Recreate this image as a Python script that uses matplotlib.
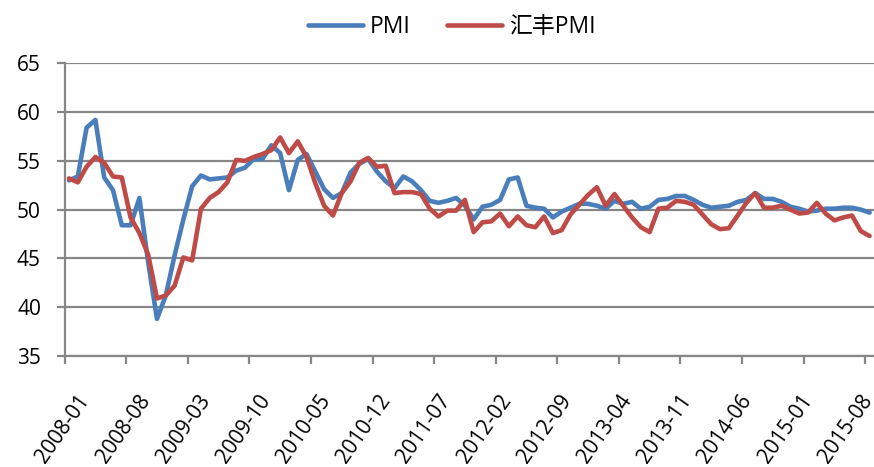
import matplotlib
matplotlib.use("Agg")
import matplotlib.pyplot as plt
from matplotlib.transforms import ScaledTranslation

months = [f"{y}-{m:02d}" for y in range(2008, 2016) for m in range(1, 13)][:92]

pmi = [53.0, 53.4, 58.4, 59.2, 53.3, 52.0, 48.4, 48.4, 51.2, 44.6, 38.8, 41.2,
       45.3, 49.0, 52.4, 53.5, 53.1, 53.2, 53.3, 54.0, 54.3, 55.2, 55.2, 56.6,
       55.8, 52.0, 55.1, 55.7, 53.9, 52.1, 51.2, 51.7, 53.8, 54.7, 55.2, 53.9,
       52.9, 52.2, 53.4, 52.9, 52.0, 50.9, 50.7, 50.9, 51.2, 50.4, 49.0, 50.3,
       50.5, 51.0, 53.1, 53.3, 50.4, 50.2, 50.1, 49.2, 49.8, 50.2, 50.6, 50.6,
       50.4, 50.1, 50.9, 50.6, 50.8, 50.1, 50.3, 51.0, 51.1, 51.4, 51.4, 51.0,
       50.5, 50.2, 50.3, 50.4, 50.8, 51.0, 51.7, 51.1, 51.1, 50.8, 50.3, 50.1,
       49.8, 49.9, 50.1, 50.1, 50.2, 50.2, 50.0, 49.7]

hsbc_pmi = [53.2, 52.8, 54.4, 55.4, 54.8, 53.4, 53.3, 49.2, 47.6, 45.4, 40.9, 41.2,
            42.2, 45.1, 44.8, 50.1, 51.2, 51.8, 52.8, 55.1, 55.0, 55.4, 55.7, 56.1,
            57.4, 55.8, 57.0, 55.4, 52.7, 50.4, 49.4, 51.7, 52.9, 54.8, 55.3, 54.4,
            54.5, 51.7, 51.8, 51.8, 51.6, 50.1, 49.3, 49.9, 49.9, 51.0, 47.7, 48.7,
            48.8, 49.6, 48.3, 49.3, 48.4, 48.2, 49.3, 47.6, 47.9, 49.5, 50.5, 51.5,
            52.3, 50.4, 51.6, 50.4, 49.2, 48.2, 47.7, 50.1, 50.2, 50.9, 50.8, 50.5,
            49.5, 48.5, 48.0, 48.1, 49.4, 50.7, 51.7, 50.2, 50.2, 50.4, 50.0, 49.6,
            49.7, 50.7, 49.6, 48.9, 49.2, 49.4, 47.8, 47.3]

series_names = ["PMI", "汇丰PMI"]
yticks = [35, 40, 45, 50, 55, 60, 65]

BLUE = "#4A7EBB"
RED = "#BE4B48"
GRID = "#868686"
FONTS = ["Open Sans", "Noto Sans CJK SC", "DejaVu Sans"]
plt.rcParams["font.family"] = FONTS

fig = plt.figure(figsize=(8.74, 4.67), dpi=100)
ax = fig.add_axes([64.6 / 874, 1 - 356 / 467, 1 - 64.6 / 874, (356 - 63.3) / 467])

x = list(range(len(months)))
ax.plot(x, pmi, color=BLUE, lw=3.3, solid_joinstyle="round", solid_capstyle="round",
        label=series_names[0], zorder=3)
ax.plot(x, hsbc_pmi, color=RED, lw=3.3, solid_joinstyle="round", solid_capstyle="round",
        label=series_names[1], zorder=4)

ax.set_xlim(-0.5, len(months) - 0.5)
ax.set_ylim(35, 65)
ax.set_yticks(yticks)
ax.yaxis.grid(True, color=GRID, lw=1.6)
ax.set_axisbelow(True)

label_pos = list(range(0, len(months), 7))
ax.set_xticks(label_pos)
ax.set_xticklabels([months[i] for i in label_pos], rotation=55, ha="right",
                   rotation_mode="anchor", fontsize=15)
ax.set_xticks([p - 0.5 for p in label_pos], minor=True)
ax.tick_params(axis="x", which="major", length=0, pad=25)
ax.tick_params(axis="x", which="minor", length=6, width=1.6, color=GRID, direction="out")
ax.tick_params(axis="y", length=6, width=1.6, color=GRID, direction="out", pad=11,
               labelsize=15)
labs = ax.get_xticklabels()
n = len(labs)
for k, lab in enumerate(labs):
    dx_px = 8 - 18 * k / (n - 1)
    lab.set_transform(lab.get_transform() +
                      ScaledTranslation(dx_px / 100, 0, fig.dpi_scale_trans))

for s in ["top", "right"]:
    ax.spines[s].set_visible(False)
for s in ["left", "bottom"]:
    ax.spines[s].set_color(GRID)
    ax.spines[s].set_linewidth(1.6)

fig.legend(loc="center", bbox_to_anchor=(452 / 874, 1 - 27 / 467), ncol=2,
           frameon=False, fontsize=16.5, handlelength=2.4, handletextpad=0.3,
           columnspacing=1.6, borderpad=0, borderaxespad=0)

fig.savefig("out.png", dpi=100)
